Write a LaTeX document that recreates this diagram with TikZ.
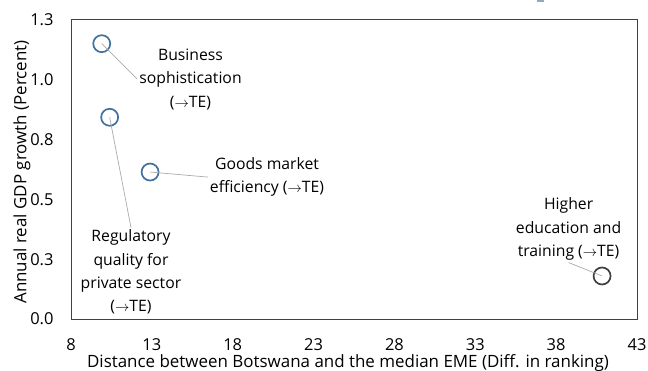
\documentclass[tikz,border=0pt]{standalone}
\usepackage{fontspec}
\setmainfont{Open Sans}
\usetikzlibrary{calc}

\definecolor{ptblue}{RGB}{65,113,156}
\definecolor{ptdark}{RGB}{64,64,64}
\definecolor{leadgray}{RGB}{170,170,170}
\newcommand{\toTE}{(\ensuremath{\rightarrow}TE)}

\tikzset{
  pt/.style={circle, draw=ptblue, line width=1.7bp, minimum size=17bp, inner sep=0pt},
  ptd/.style={pt, draw=ptdark},
  lbl/.style={align=center, font=\fontsize{15.8}{23.5}\selectfont, inner sep=2bp},
  leader/.style={draw=leadgray, line width=0.7bp},
  tick/.style={font=\fontsize{16.5}{19}\selectfont},
  axtitle/.style={font=\fontsize{17}{20}\selectfont}
}

\begin{document}
\begin{tikzpicture}[x=1bp,y=1bp]
  \useasboundingbox (0,0) rectangle (648,370);
  \fill[ptblue!60] (537,368) rectangle (544,370);
  \begin{scope}[xshift=71bp, yshift=51bp, x=16.171bp, y=230bp]
    \draw[black!75, line width=1bp] (0,0) rectangle (35,1.3);
    \foreach \v/\t [count=\i] in {0/0.0, 0.26/0.3, 0.52/0.5, 0.78/0.8, 1.04/1.0, 1.3/1.3}
      \node[tick, anchor=east, xshift=-14bp] (y\i) at (0,\v) {\t};
    \foreach \v [count=\i] in {8,13,...,43}
      \node[tick, yshift=-26bp] (x\i) at ({\v-8},0) {\v};

    % points
    \node[pt] (bus) at (1.9,1.197) {};
    \node[pt] (reg) at (2.39,0.877) {};
    \node[pt] (goods) at (4.89,0.639) {};
    \node[ptd] (high) at (32.84,0.187) {};

    % labels
    \node[lbl] (busl) at (7.39,1.043) {Business\\sophistication\\\toTE};
    \node[lbl] (goodsl) at (12.12,0.617) {Goods market\\efficiency \toTE};
    \node[lbl] (regl) at (3.71,0.204) {Regulatory\\quality for\\private sector\\\toTE};
    \node[lbl] (highl) at (30.77,0.391) {Higher\\education and\\training \toTE};

    \draw[leader] (bus.center) -- (busl.west);
    \draw[leader] (goods.center) -- (goodsl.west);
    \draw[leader] (reg.center) -- (regl.north);
    \draw[leader] (high.center) -- (highl.south);
  \end{scope}
  \node[axtitle, anchor=base] (xt) at (348,3) {Distance between Botswana and the median EME (Diff. in ranking)};
  \node[axtitle, rotate=90] (yt) at (22,198) {Annual real GDP growth (Percent)};
\end{tikzpicture}
\end{document}
